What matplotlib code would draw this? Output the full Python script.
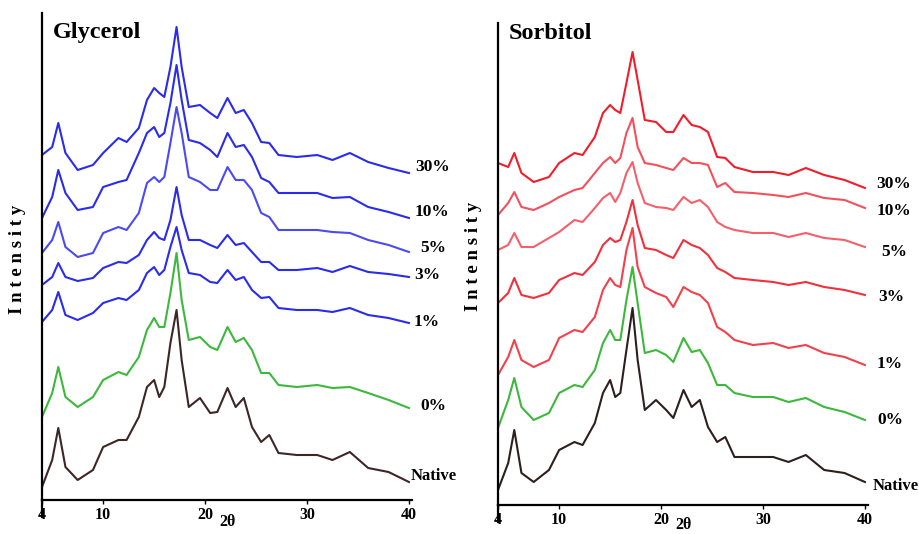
import matplotlib
matplotlib.use("Agg")
import matplotlib.pyplot as plt

# ---- data (2theta grid and intensities, arbitrary units incl. stacking offset) ----
two_theta = [4.0, 5.0, 5.6, 6.3, 7.5, 9.0, 10.0, 11.5, 12.3, 13.5, 14.3, 15.0, 15.5, 16.0,
             16.6, 17.2, 17.7, 18.4, 19.5, 20.5, 21.2, 22.2, 23.0, 23.8, 24.6, 25.5, 26.3,
             27.2, 29.0, 31.0, 32.5, 34.2, 36.0, 38.0, 40.0]

gly_30 = [345, 353, 377, 347, 330, 335, 347, 362, 358, 372, 400, 412, 407, 403, 433, 473, 433, 393,
          395, 387, 382, 402, 387, 390, 377, 358, 357, 345, 343, 345, 340, 347, 338, 332, 327]
gly_10 = [282, 303, 330, 307, 290, 293, 313, 318, 320, 347, 367, 373, 363, 367, 397, 435, 400, 360,
          357, 350, 343, 367, 353, 355, 343, 322, 318, 307, 307, 307, 302, 303, 293, 288, 282]
gly_5 = [247, 260, 278, 253, 243, 247, 267, 273, 270, 287, 317, 323, 318, 323, 357, 393, 367, 323,
         318, 310, 310, 333, 320, 320, 310, 287, 283, 270, 270, 270, 268, 267, 260, 255, 248]
gly_3 = [215, 223, 237, 223, 219, 222, 232, 238, 237, 245, 260, 268, 262, 260, 280, 313, 285, 260,
         260, 255, 252, 265, 255, 257, 248, 238, 238, 230, 230, 232, 228, 234, 228, 226, 223]
gly_1 = [178, 190, 208, 185, 180, 187, 197, 202, 200, 210, 227, 233, 225, 230, 253, 273, 250, 227,
         225, 218, 217, 230, 220, 223, 210, 202, 203, 192, 190, 190, 188, 192, 185, 182, 177]
gly_0 = [83, 107, 133, 103, 93, 103, 120, 128, 125, 143, 170, 182, 173, 173, 207, 247, 200, 160,
         163, 153, 150, 173, 158, 162, 150, 127, 127, 115, 113, 115, 112, 113, 107, 100, 92]
gly_native = [13, 40, 72, 33, 20, 30, 53, 60, 60, 83, 113, 120, 103, 113, 157, 190, 140, 93,
              102, 87, 88, 112, 93, 102, 73, 58, 65, 47, 45, 45, 40, 48, 32, 28, 18]

sor_30 = [342, 338, 352, 332, 323, 328, 342, 352, 350, 368, 392, 400, 395, 392, 422, 453, 425, 385,
          383, 373, 373, 390, 380, 378, 373, 348, 347, 338, 333, 333, 330, 337, 330, 325, 317]
sor_10 = [290, 302, 313, 298, 295, 302, 308, 315, 317, 332, 342, 348, 342, 347, 372, 387, 358, 342,
          340, 337, 335, 347, 342, 342, 340, 318, 322, 313, 312, 310, 308, 312, 307, 305, 297]
sor_5 = [255, 260, 272, 258, 258, 267, 273, 285, 283, 297, 307, 312, 303, 312, 332, 343, 322, 302,
         298, 297, 295, 308, 302, 305, 298, 283, 278, 275, 272, 272, 268, 272, 267, 265, 258]
sor_3 = [202, 212, 227, 210, 207, 212, 225, 232, 230, 243, 260, 267, 263, 265, 283, 305, 280, 257,
         255, 250, 247, 265, 260, 257, 250, 237, 233, 227, 225, 223, 220, 223, 218, 215, 210]
sor_1 = [130, 148, 165, 145, 138, 145, 167, 175, 173, 188, 215, 227, 220, 218, 255, 277, 238, 218,
         212, 208, 198, 218, 213, 210, 202, 178, 173, 165, 160, 162, 157, 160, 152, 148, 140]
sor_0 = [77, 105, 127, 98, 85, 92, 112, 120, 118, 135, 162, 175, 165, 165, 205, 238, 202, 152,
         155, 150, 143, 167, 153, 155, 142, 120, 120, 112, 108, 108, 103, 107, 98, 93, 85]
sor_native = [15, 42, 75, 32, 23, 35, 55, 63, 60, 82, 112, 125, 108, 112, 155, 197, 145, 95,
              105, 95, 87, 115, 98, 105, 78, 63, 68, 48, 48, 48, 43, 50, 35, 32, 23]

series_labels = ["30%", "10%", "5%", "3%", "1%", "0%", "Native"]
x_ticks = [4, 10, 20, 30, 40]

# ---- styling ----
serif = ["Liberation Serif", "DejaVu Serif"]
plt.rcParams["font.family"] = serif
plt.rcParams["font.weight"] = "bold"

W, H = 919, 534
fig = plt.figure(figsize=(W / 100, H / 100), dpi=100)


def add_axes(px_left, px_right, py_top, py_bottom):
    return fig.add_axes([px_left / W, (H - py_bottom) / H,
                         (px_right - px_left) / W, (py_bottom - py_top) / H])


panels = [
    dict(ax=add_axes(42, 412, 13, 500), ymax=487, title="Glycerol", title_y=0.959,
         xlab=(228, 522),
         series=[gly_30, gly_10, gly_5, gly_3, gly_1, gly_0, gly_native],
         colors=["#2b2bee", "#2b2bee", "#4a4af5", "#2b2bee", "#2b2bee", "#3cb83c", "#3d2626"],
         label_pos=[(40.6, 333), (40.6, 288), (41.1, 252), (40.5, 225), (40.5, 178),
                    (41.1, 94), (40.2, 24)]),
    dict(ax=add_axes(498, 868, 23, 505), ymax=482, title="Sorbitol", title_y=0.979,
         xlab=(684, 525),
         series=[sor_30, sor_10, sor_5, sor_3, sor_1, sor_0, sor_native],
         colors=["#f21d2a", "#f4505c", "#f55f6b", "#f2303c", "#f4404c", "#3cb83c", "#2e1e1e"],
         label_pos=[(41.1, 321), (41.1, 294), (41.6, 253), (41.3, 208), (41.1, 141),
                    (41.2, 85), (40.8, 19)]),
]

for p in panels:
    ax = p["ax"]
    for vals, col in zip(p["series"], p["colors"]):
        ax.plot(two_theta, vals, color=col, lw=1.5, solid_joinstyle="round")
    for lab, (lx, ly) in zip(series_labels, p["label_pos"]):
        ax.text(lx, ly, lab, fontsize=12 if lab == "Native" else 12.5, fontweight="bold",
                ha="left", va="center", clip_on=False)
    ax.set_xlim(4, 40.3)
    ax.set_ylim(0, p["ymax"])
    ax.set_xticks(x_ticks)
    ax.set_xticklabels([str(t) for t in x_ticks], fontsize=11.5, fontweight="bold")
    ax.set_yticks([])
    for s in ["top", "right"]:
        ax.spines[s].set_visible(False)
    ax.spines["left"].set_linewidth(1.6)
    ax.spines["bottom"].set_linewidth(1.6)
    ax.tick_params(axis="x", direction="out", length=3, width=1, pad=2)
    ax.plot([0, 0], [-0.035, 0], transform=ax.transAxes, color="black", lw=1.6,
            clip_on=False)
    ax.text(0.03, p["title_y"], p["title"], transform=ax.transAxes, fontsize=17.5,
            fontweight="bold", ha="left", va="center")
    fig.text(p["xlab"][0] / W, 1 - p["xlab"][1] / H, "2θ", fontsize=11.5,
             fontweight="bold", ha="center", va="center")

fig.text(18 / W, 1 - 259 / H, "I n t e n s i t y", rotation=90, fontsize=13.5,
         fontweight="bold", ha="center", va="center")
fig.text(473 / W, 1 - 256 / H, "I n t e n s i t y", rotation=90, fontsize=13.5,
         fontweight="bold", ha="center", va="center")

fig.savefig("out.png", dpi=100, facecolor="white")
